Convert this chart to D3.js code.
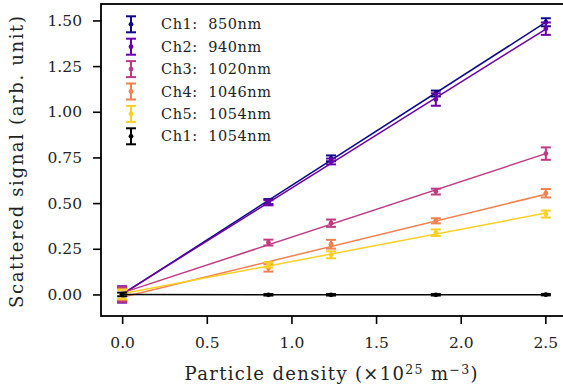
<!DOCTYPE html>
<html>
<head>
<meta charset="utf-8">
<script src="https://cdn.jsdelivr.net/npm/d3@7"></script>
<style>
  body { margin: 0; background: #fff; }
  svg { display: block; font-family: "DejaVu Serif", serif; }
</style>
</head>
<body>
<svg id="chart" width="563" height="389"></svg>
<script>
// particle densities (x10^25 m^-3)
const density = [0, 0.864, 1.234, 1.853, 2.503];

const channels = ["Ch1:\u00a0\u00a0850nm", "Ch2:\u00a0\u00a0940nm", "Ch3:\u00a0\u00a01020nm",
                  "Ch4:\u00a0\u00a01046nm", "Ch5:\u00a0\u00a01054nm", "Ch1:\u00a0\u00a01054nm"];

// signal per channel
const ch1_850 = [0.0, 0.508, 0.745, 1.100, 1.490];
const ch2_940 = [0.0, 0.502, 0.728, 1.067, 1.455];
const ch3_1020 = [0.0, 0.284, 0.390, 0.563, 0.771];
const ch4_1046 = [0.0, 0.145, 0.275, 0.403, 0.554];
const ch5_1054 = [0.0, 0.162, 0.217, 0.338, 0.440];
const ch1_1054 = [0.0, -0.002, -0.002, -0.002, -0.001];

// error bars (half-width)
const err1 = [0.035, 0.014, 0.016, 0.016, 0.022];
const err2 = [0.045, 0.014, 0.016, 0.034, 0.034];
const err3 = [0.040, 0.016, 0.020, 0.016, 0.034];
const err4 = [0.030, 0.020, 0.024, 0.014, 0.023];
const err5 = [0.025, 0.015, 0.019, 0.018, 0.019];
const err6 = [0.010, 0.004, 0.004, 0.004, 0.004];

const xTicks = [0, 0.5, 1.0, 1.5, 2.0, 2.5];
const yTicks = [0, 0.25, 0.5, 0.75, 1.0, 1.25, 1.5];

const colors = ["#0d0887", "#6a00a8", "#c03a83", "#f1814d", "#fccf25", "#000000"];

const series = [ch1_850, ch2_940, ch3_1020, ch4_1046, ch5_1054, ch1_1054];
const errs = [err1, err2, err3, err4, err5, err6];

const svg = d3.select("#chart");
const L = 101, T = 4, B = 316, R = 566.5;

const x = d3.scaleLinear().domain([-0.125, 2.625]).range([L, R]);
const y = d3.scaleLinear().domain([-0.118, 1.59]).range([B, T]);

// least-squares fit line
function fit(xs, ys) {
  const mx = d3.mean(xs), my = d3.mean(ys);
  let sxy = 0, sxx = 0;
  for (let i = 0; i < xs.length; i++) {
    sxy += (xs[i] - mx) * (ys[i] - my);
    sxx += (xs[i] - mx) * (xs[i] - mx);
  }
  const m = sxy / sxx;
  return [m, my - m * mx];
}

const g = svg.append("g");

series.forEach((vals, si) => {
  const [m, b] = fit(density, vals);
  const x0 = density[0], x1 = density[density.length - 1];
  g.append("line")
    .attr("x1", x(x0)).attr("y1", y(m * x0 + b))
    .attr("x2", x(x1)).attr("y2", y(m * x1 + b))
    .attr("stroke", colors[si]).attr("stroke-width", 1.5);

  const pts = g.append("g");
  vals.forEach((v, i) => {
    const cx = x(density[i]);
    const e = errs[si][i];
    pts.append("line")
      .attr("x1", cx).attr("x2", cx)
      .attr("y1", y(v - e)).attr("y2", y(v + e))
      .attr("stroke", colors[si]).attr("stroke-width", 2);
    [v - e, v + e].forEach(c => {
      pts.append("line")
        .attr("x1", cx - 5).attr("x2", cx + 5)
        .attr("y1", y(c)).attr("y2", y(c))
        .attr("stroke", colors[si]).attr("stroke-width", 2);
    });
    pts.append("circle")
      .attr("cx", cx).attr("cy", y(v)).attr("r", 2.4)
      .attr("fill", colors[si]);
  });
});

// axes
const xAxis = d3.axisBottom(x).tickValues(xTicks).tickFormat(d3.format(".1f")).tickSize(8);
const yAxis = d3.axisLeft(y).tickValues(yTicks).tickFormat(d3.format(".2f")).tickSize(8).tickPadding(11);

const gx = svg.append("g").attr("transform", `translate(0,${B})`).call(xAxis);
const gy = svg.append("g").attr("transform", `translate(${L},0)`).call(yAxis);
[gx, gy].forEach(a => {
  a.select(".domain").remove();
  a.selectAll(".tick line").attr("stroke", "#000").attr("stroke-width", 1.6);
  a.selectAll(".tick text").attr("fill", "#222").style("font-size", "15.5px")
    .style("font-family", "DejaVu Serif, serif");
});
gx.selectAll(".tick text").attr("y", 32).attr("dy", 0);

// frame
svg.append("rect")
  .attr("x", L).attr("y", T).attr("width", R - L).attr("height", B - T)
  .attr("fill", "none").attr("stroke", "#000").attr("stroke-width", 1.8);

// axis labels
svg.append("text")
  .attr("x", 331).attr("y", 380)
  .attr("text-anchor", "middle")
  .style("font-size", "18px").attr("fill", "#222")
  .attr("textLength", 293).attr("lengthAdjust", "spacing")
  .html('Particle density (×10<tspan dy="-6" font-size="12.5px">25</tspan><tspan dy="6">\u00a0m</tspan><tspan dy="-6" font-size="12.5px">−3</tspan><tspan dy="6">)</tspan>');

svg.append("text")
  .attr("transform", "translate(23,162) rotate(-90)")
  .attr("text-anchor", "middle")
  .style("font-size", "18px").attr("fill", "#222")
  .attr("textLength", 292).attr("lengthAdjust", "spacing")
  .text("Scattered signal (arb. unit)");

// legend
const leg = svg.append("g");
channels.forEach((name, i) => {
  const cy = 24.3 + i * 22.4;
  const cx = 131;
  const gi = leg.append("g");
  gi.append("line").attr("x1", cx).attr("x2", cx).attr("y1", cy - 8).attr("y2", cy + 8)
    .attr("stroke", colors[i]).attr("stroke-width", 2);
  [cy - 8, cy + 8].forEach(c => {
    gi.append("line").attr("x1", cx - 5).attr("x2", cx + 5).attr("y1", c).attr("y2", c)
      .attr("stroke", colors[i]).attr("stroke-width", 2);
  });
  gi.append("circle").attr("cx", cx).attr("cy", cy).attr("r", 2.4).attr("fill", colors[i]);
  const t = gi.append("text").attr("x", 161).attr("y", cy).attr("dy", "0.35em")
    .style("font-size", "14.5px").attr("fill", "#222")
    .text(name);
  const len = t.node().getComputedTextLength();
  t.attr("textLength", len * 1.06).attr("lengthAdjust", "spacing");
});
</script>
</body>
</html>
